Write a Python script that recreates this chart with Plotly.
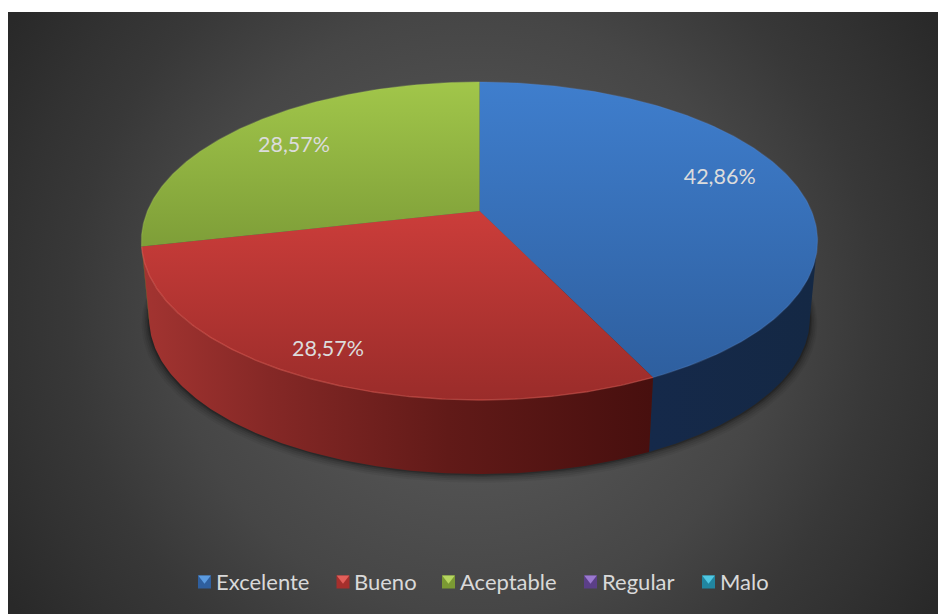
import numpy as np
import plotly.graph_objects as go

# ---- data ----
categories = ["Excelente", "Bueno", "Aceptable", "Regular", "Malo"]
values = [3, 2, 2, 0, 0]
label_texts = ["42,86%", "28,57%", "28,57%"]

# ---- styles ----
top_colors = [("#3f7ecd", "#2e5f9f"), ("#cb3d3a", "#9a2c2a"), ("#a1c64a", "#7e9e38")]
side_scales = [
    [[0, "#15294a"], [1, "#142844"]],
    [[0, "#a33431"], [0.25, "#852826"], [0.6, "#611a18"], [1, "#470f0e"]],
    [[0, "#5a7028"], [1, "#5a7028"]],
]
rim_colors = ["rgba(90,140,210,0.25)", "rgba(235,100,90,0.45)", "rgba(170,205,90,0.3)"]
legend_dark = ["#2f5f9e", "#a52f2c", "#7b9a33", "#5b3f88", "#2186a0"]
legend_light = ["#5b9be0", "#e25f5a", "#b6d660", "#9a78cf", "#4fc7e2"]
legend_x = [204.5, 343, 448.5, 590.5, 708.5]
legend_text_x = [216, 354, 460, 602, 720]
label_r = [0.795, 0.855, 0.78]
label_shift = [-5, 1.5, 0]

# projection of the pie disc on the page
CX, CY, A, B, K = 479.5, 211, 332, 153.3, 0.1887
DEPTH, BOTTOM_SCALE = 78.4, 0.977
W, H = 938, 614
PANEL_L, PANEL_T = 8, 12
GLOW_X, GLOW_Y, GLOW_R = 473, 313, 545


def project(theta_deg, r=1.0, depth=0.0, scale=1.0):
    t = np.radians(theta_deg)
    X, Y = r * np.sin(t), -r * np.cos(t)
    w = 1 - K * Y
    return CX + scale * A * X / w, CY + depth + scale * B * Y / w


fig = go.Figure()
shapes_kw = dict(mode="lines", hoverinfo="skip", showlegend=False)

# background panel with radial gradient (clipped to the plot area)
fig.add_trace(go.Scatter(
    x=[GLOW_X - GLOW_R, GLOW_X + GLOW_R, GLOW_X + GLOW_R, GLOW_X - GLOW_R, GLOW_X - GLOW_R],
    y=[GLOW_Y - GLOW_R, GLOW_Y - GLOW_R, GLOW_Y + GLOW_R, GLOW_Y + GLOW_R, GLOW_Y - GLOW_R],
    fill="toself", line=dict(width=0),
    fillgradient=dict(type="radial",
                      colorscale=[[0, "#565656"], [0.31, "#515151"], [0.55, "#464646"],
                                  [0.74, "#383838"], [0.85, "#323232"], [1, "#292929"]]),
    **shapes_kw))

total = sum(values)
bounds = np.cumsum([0] + values) / total * 360
RIGHT_EDGE, LEFT_EDGE = 101, 259

# soft shadow under the pie side
ang = np.linspace(RIGHT_EDGE - 20, LEFT_EDGE + 20, 200)
for off, alpha in [(9, 0.05), (7, 0.07), (5, 0.09), (3, 0.13), (1.5, 0.2)]:
    sx, sy = project(ang, depth=DEPTH + off * 0.5, scale=BOTTOM_SCALE + off / 400)
    fig.add_trace(go.Scatter(x=sx, y=sy, fill="toself", line=dict(width=0),
                             fillcolor=f"rgba(0,0,0,{alpha})", **shapes_kw))

# visible side walls
for i in range(3):
    a0, a1 = bounds[i], bounds[i + 1]
    a0v, a1v = max(a0, RIGHT_EDGE), min(a1, LEFT_EDGE)
    if a1v <= a0v:
        continue
    t = np.linspace(a0v, a1v, 160)
    xt, yt = project(t)
    xb, yb = project(t[::-1], depth=DEPTH, scale=BOTTOM_SCALE)
    xs = np.concatenate([xt, xb, xt[:1]])
    ys = np.concatenate([yt, yb, yt[:1]])
    fig.add_trace(go.Scatter(
        x=xs, y=ys, fill="toself", line=dict(width=0),
        fillgradient=dict(type="horizontal", start=float(xs.min()), stop=float(xs.max()),
                          colorscale=side_scales[i]),
        **shapes_kw))

# top wedges
for i in range(3):
    t = np.linspace(bounds[i], bounds[i + 1], 200)
    xa, ya = project(t)
    xs = np.concatenate([[CX], xa, [CX]])
    ys = np.concatenate([[CY], ya, [CY]])
    fig.add_trace(go.Scatter(
        x=xs, y=ys, fill="toself", line=dict(width=0), name=categories[i],
        fillgradient=dict(type="vertical", start=float(ys.min()), stop=float(ys.max()),
                          colorscale=[[0, top_colors[i][0]], [1, top_colors[i][1]]]),
        **shapes_kw))
    fig.add_trace(go.Scatter(x=xa, y=ya, line=dict(width=1.4, color=rim_colors[i]), **shapes_kw))

# data labels
mids = (bounds[:3] + bounds[1:4]) / 2
lx, ly = project(mids + np.array(label_shift), r=np.array(label_r))
fig.add_trace(go.Scatter(x=lx, y=ly + 3.5, mode="text", text=label_texts, showlegend=False,
                         hoverinfo="skip", textposition="middle center",
                         textfont=dict(family="Lato, Carlito, sans-serif", size=21.5, color="#dcdcdc")))

# legend: bevelled keys with their text
LEG_Y = 582
fig.add_trace(go.Scatter(x=legend_x, y=[LEG_Y] * 5, mode="markers", hoverinfo="skip", showlegend=False,
                         marker=dict(symbol="square", size=13, color=legend_dark, line=dict(width=0))))
fig.add_trace(go.Scatter(x=legend_x, y=[LEG_Y - 3.75] * 5, mode="markers", hoverinfo="skip", showlegend=False,
                         marker=dict(symbol="triangle-down", size=11, color=legend_light, line=dict(width=0))))
fig.add_trace(go.Scatter(x=legend_text_x, y=[LEG_Y + 2] * 5, mode="text", hoverinfo="skip", showlegend=False,
                         text=categories, textposition="middle right",
                         textfont=dict(family="Lato, Carlito, sans-serif", size=22, color="#d9d9d9")))

fig.update_layout(
    width=W, height=H, margin=dict(l=0, r=0, t=0, b=0),
    paper_bgcolor="white", plot_bgcolor="white", showlegend=False,
    xaxis=dict(range=[PANEL_L, W], domain=[PANEL_L / W, 1], visible=False, fixedrange=True),
    yaxis=dict(range=[H, PANEL_T], domain=[0, 1 - PANEL_T / H], visible=False, fixedrange=True),
)
fig.write_html("out.html", config=dict(displayModeBar=False),
               post_script="document.body.style.margin='0';document.body.style.overflow='hidden';")
